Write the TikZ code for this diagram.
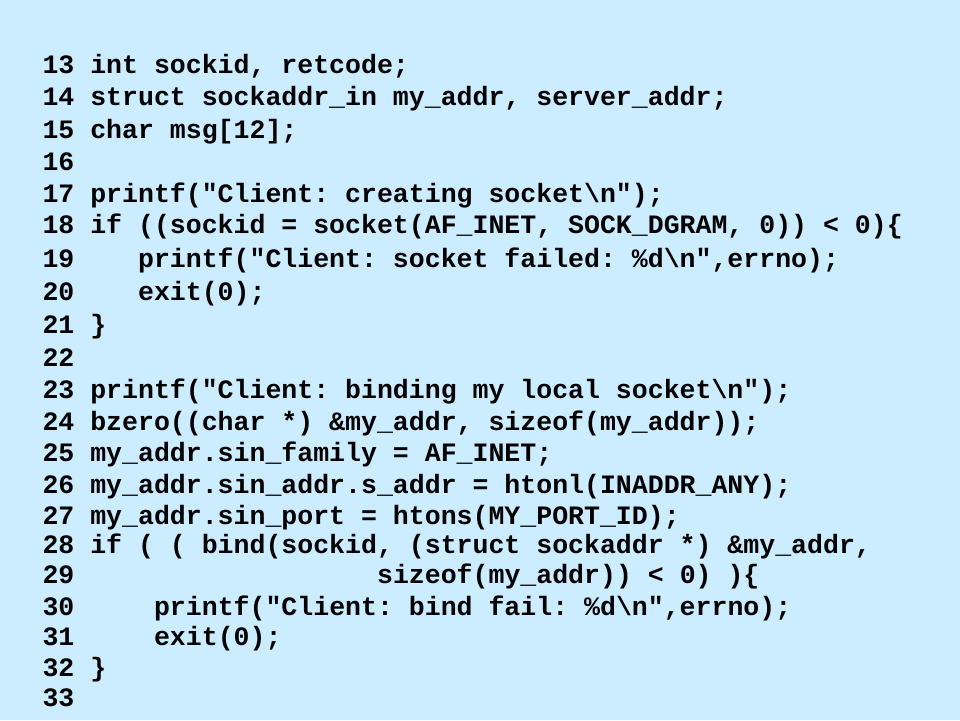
\documentclass[tikz,border=0pt]{standalone}
\usepackage{fontspec}
\setmonofont{Liberation Mono}
\definecolor{bgblue}{RGB}{204,236,255}
\tikzset{
  codeline/.style={anchor=base west, inner sep=0pt, outer sep=0pt,
    font=\fontsize{26.55}{30}\selectfont\ttfamily\bfseries, text=black}
}
\begin{document}
\begin{tikzpicture}[x=1pt,y=-1pt]
\fill[bgblue] (0,0) rectangle (960,720);
\useasboundingbox (0,0) rectangle (960,720);
\node[codeline] (l13) at (42.5,73) {13 int sockid, retcode;};
\node[codeline] (l14) at (42.5,105) {14 struct sockaddr\_in my\_addr, server\_addr;};
\node[codeline] (l15) at (42.5,138) {15 char msg[12];};
\node[codeline] (l16) at (42.5,170) {16};
\node[codeline] (l17) at (42.5,202) {17 printf(\symbol{34}Client: creating socket\textbackslash n\symbol{34});};
\node[codeline] (l18) at (42.5,233) {18 if ((sockid = socket(AF\_INET, SOCK\_DGRAM, 0)) < 0)\{};
\node[codeline] (l19) at (42.5,267) {19\ \ \ \ printf(\symbol{34}Client: socket failed: \%d\textbackslash n\symbol{34},errno);};
\node[codeline] (l20) at (42.5,300) {20\ \ \ \ exit(0);};
\node[codeline] (l21) at (42.5,333) {21 \}};
\node[codeline] (l22) at (42.5,366) {22};
\node[codeline] (l23) at (42.5,398) {23 printf(\symbol{34}Client: binding my local socket\textbackslash n\symbol{34});};
\node[codeline] (l24) at (42.5,430) {24 bzero((char *) \&my\_addr, sizeof(my\_addr));};
\node[codeline] (l25) at (42.5,461) {25 my\_addr.sin\_family = AF\_INET;};
\node[codeline] (l26) at (42.5,493) {26 my\_addr.sin\_addr.s\_addr = htonl(INADDR\_ANY);};
\node[codeline] (l27) at (42.5,524) {27 my\_addr.sin\_port = htons(MY\_PORT\_ID);};
\node[codeline] (l28) at (42.5,553) {28 if ( ( bind(sockid, (struct sockaddr *) \&my\_addr,};
\node[codeline] (l29) at (42.5,583) {29\ \ \ \ \ \ \ \ \ \ \ \ \ \ \ \ \ \ \ sizeof(my\_addr)) < 0) )\{};
\node[codeline] (l30) at (42.5,615) {30\ \ \ \ \ printf(\symbol{34}Client: bind fail: \%d\textbackslash n\symbol{34},errno);};
\node[codeline] (l31) at (42.5,645) {31\ \ \ \ \ exit(0);};
\node[codeline] (l32) at (42.5,676) {32 \}};
\node[codeline] (l33) at (42.5,706) {33};
\end{tikzpicture}
\end{document}
